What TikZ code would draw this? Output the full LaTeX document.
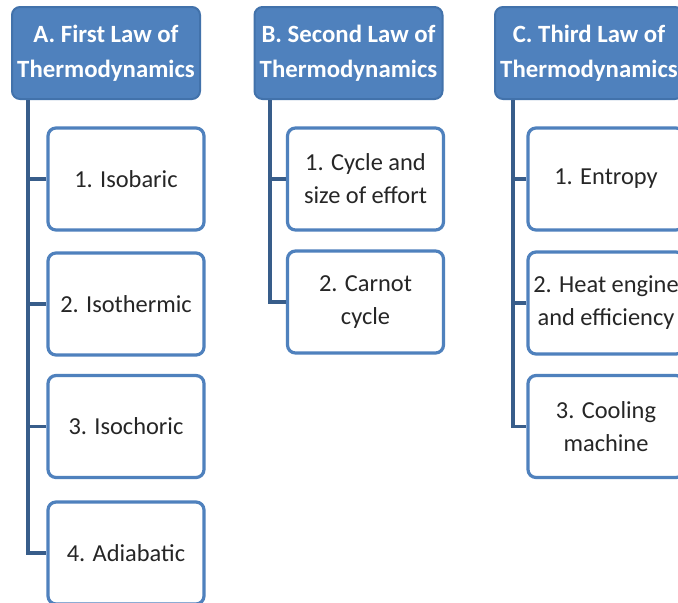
\documentclass[tikz,border=0pt]{standalone}
\usepackage{fontspec}
\setmainfont{Carlito}
\definecolor{lawblue}{HTML}{4F81BD}
\definecolor{lawedge}{HTML}{4272AB}
\definecolor{treeline}{HTML}{385D8A}
\begin{document}
\begin{tikzpicture}[x=0.5pt, y=-0.5pt,
    law/.style = {draw=lawedge, line width=1pt, fill=lawblue, rounded corners=4pt,
                  minimum width=94pt, minimum height=46pt, inner sep=0pt,
                  text=white, align=center, font=\fontsize{12.4}{17.5}\selectfont\bfseries},
    topic/.style = {draw=lawblue, line width=1.6pt, fill=white, rounded corners=4pt,
                    minimum width=78pt, minimum height=51pt, inner sep=0pt,
                    text=black!85, align=center, font=\fontsize{12.2}{16.5}\selectfont},
    conn/.style = {draw=treeline, line width=1.9pt}]
    \clip (0,0) rectangle (678,602);
    \fill[white] (0,0) rectangle (678,602);

    % Kopfzeilen
    \node[law] (hA) at (106,53)   {A. First Law of\\Thermodynamics};
    \node[law] (hB) at (348.5,53) {B. Second Law of\\Thermodynamics};
    \node[law] (hC) at (589,53)   {C. Third Law of\\Thermodynamics};

    % Erster Hauptsatz
    \node[topic] (a1) at (126,179)   {1. Isobaric};
    \node[topic] (a2) at (126,304)   {2. Isothermic};
    \node[topic] (a3) at (126,426.5) {3. Isochoric};
    \node[topic] (a4) at (126,553)   {4. Adiabatic};

    % Zweiter Hauptsatz
    \node[topic] (b1) at (365.5,179) {1. Cycle and\\size of effort};
    \node[topic] (b2) at (365.5,302) {2. Carnot\\cycle};

    % Dritter Hauptsatz
    \node[topic] (c1) at (606,179)   {1. Entropy};
    \node[topic] (c2) at (606,303)   {2. Heat engine\\and efficiency};
    \node[topic] (c3) at (606,426.5) {3. Cooling\\machine};

    % Verbindungen
    \coordinate (sA) at (28,100);
    \coordinate (sB) at (270,100);
    \coordinate (sC) at (513,100);
    \draw[conn] (sA) |- (a4.west);
    \draw[conn] (sB) |- (b2.west);
    \draw[conn] (sC) |- (c3.west);
    \draw[conn] (a1.west) -- (a1.west -| sA);
    \draw[conn] (a2.west) -- (a2.west -| sA);
    \draw[conn] (a3.west) -- (a3.west -| sA);
    \draw[conn] (b1.west) -- (b1.west -| sB);
    \draw[conn] (c1.west) -- (c1.west -| sC);
    \draw[conn] (c2.west) -- (c2.west -| sC);
\end{tikzpicture}
\end{document}
